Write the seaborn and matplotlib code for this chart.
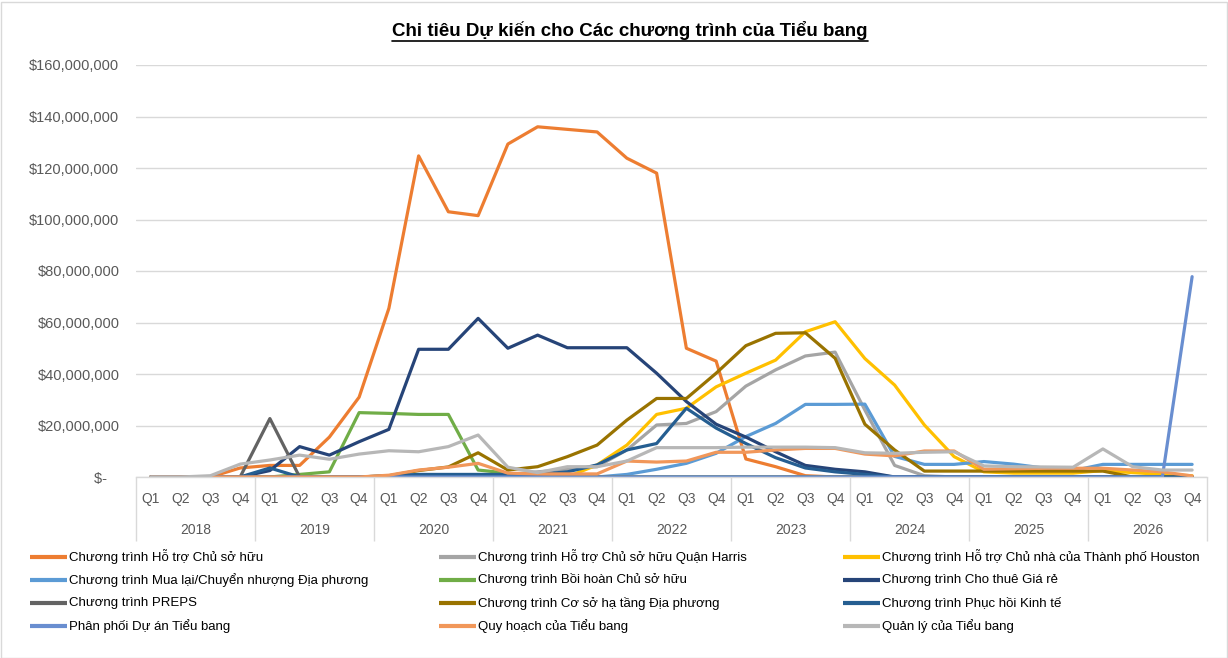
import matplotlib
matplotlib.use("Agg")
import matplotlib.pyplot as plt
from matplotlib.patches import Rectangle
from matplotlib.lines import Line2D
from matplotlib.ticker import FuncFormatter
import numpy as np
import pandas as pd
import seaborn as sns

# ---- data (millions of USD per quarter, 2018 Q1 .. 2026 Q4) ----
years = ["2018", "2019", "2020", "2021", "2022", "2023", "2024", "2025", "2026"]
quarters = ["Q1", "Q2", "Q3", "Q4"]

series_names = [
    "Chương trình Hỗ trợ Chủ sở hữu",
    "Chương trình Hỗ trợ Chủ sở hữu Quận Harris",
    "Chương trình Hỗ trợ Chủ nhà của Thành phố Houston",
    "Chương trình Mua lại/Chuyển nhượng Địa phương",
    "Chương trình Bồi hoàn Chủ sở hữu",
    "Chương trình Cho thuê Giá rẻ",
    "Chương trình PREPS",
    "Chương trình Cơ sở hạ tầng Địa phương",
    "Chương trình Phục hồi Kinh tế",
    "Phân phối Dự án Tiểu bang",
    "Quy hoạch của Tiểu bang",
    "Quản lý của Tiểu bang",
]

ho_tro_chu_so_huu = [0, 0, 0, 3.5, 4.5, 4.5, 15.5, 31, 65.5, 124.7, 103, 101.5,
                     129.3, 136, 135, 134, 123.8, 118, 50, 45, 7, 4, 0.5, 0,
                     0, 0, 0, 0, 0, 0, 0, 0, 0, 0, 0, 0]
harris = [0, 0, 0, 0, 0, 0, 0, 0, 0, 0, 0, 0,
          1, 2, 3, 4, 10.5, 20.2, 20.8, 25.4, 35.3, 41.6, 47, 48.5,
          26, 4.5, 0.5, 0, 0, 0, 0, 0, 0, 0, 0, 0]
houston = [0, 0, 0, 0, 0, 0, 0, 0, 0, 0, 0, 0,
           0, 0, 0, 4.7, 12.4, 24.3, 26.7, 35, 40.3, 45.4, 56.4, 60.3,
           46, 35.7, 20.2, 7.9, 2, 1.5, 1.5, 1.5, 2.5, 1.7, 1, 0.5]
mua_lai = [0, 0, 0, 0, 0, 0, 0, 0, 0, 0, 0, 0,
           0, 0, 0, 0, 1, 3, 5.3, 9.2, 15.7, 20.8, 28.2, 28.2,
           28.3, 8, 4.9, 4.9, 6, 5, 3.5, 2.5, 4.9, 4.9, 4.9, 4.9]
boi_hoan = [0, 0, 0, 0, 0, 1, 2, 25, 24.7, 24.3, 24.3, 2.7,
            1.5, 0, 0, 0, 0, 0, 0, 0, 0, 0, 0, 0,
            0, 0, 0, 0, 0, 0, 0, 0, 0, 0, 0, 0]
cho_thue = [0, 0, 0, 0, 2.5, 11.8, 8.5, 13.7, 18.5, 49.6, 49.6, 61.6,
            50, 55.1, 50.2, 50.2, 50.2, 40.3, 29.3, 20.5, 15.5, 9.8, 4.5, 3,
            2, 0, 0, 0, 0, 0, 0, 0, 0, 0, 0, 0]
preps = [0, 0, 0, 0, 22.7, 0, 0, 0, 0, 0, 0, 0,
         0, 0, 0, 0, 0, 0, 0, 0, 0, 0, 0, 0,
         0, 0, 0, 0, 0, 0, 0, 0, 0, 0, 0, 0]
co_so_ha_tang = [0, 0, 0, 0, 0, 0, 0, 0, 0.5, 2.5, 3.9, 9.4,
                 2.7, 4, 7.9, 12.4, 22.1, 30.5, 30.5, 40.3, 51, 55.8, 56, 46.1,
                 20.5, 10.5, 2.3, 2.3, 2.3, 2.3, 2.3, 2.3, 2.3, 0, 0, 0]
phuc_hoi = [0, 0, 0, 0, 3.5, 0, 0, 0, 0.5, 1, 1, 1,
            1, 1, 2, 4.7, 10.5, 13, 26.7, 19, 13, 7.5, 3.5, 2,
            1, 0, 0, 0, 0, 0, 0, 0, 0, 0, 0, 0]
phan_phoi = [0, 0, 0, 0, 0, 0, 0, 0, 0, 0, 0, 0,
             0, 0, 0, 0, 0, 0, 0, 0, 0, 0, 0, 0,
             0, 0, 0, 0, 0, 0, 0, 0, 0, 0, 0, 77.8]
quy_hoach = [0, 0, 0, 0, 0, 0, 0, 0, 0.7, 2.7, 3.8, 5.3,
             1.5, 1.2, 1.2, 1.2, 6.2, 5.8, 6.2, 9.6, 9.6, 10.5, 11.1, 11.1,
             8.9, 8.2, 10.1, 10.1, 3, 3.2, 3.4, 3.4, 3.4, 2.7, 2, 0.4]
quan_ly = [0, 0, 0.5, 5, 6.6, 8.5, 6.9, 8.9, 10.2, 9.8, 11.8, 16.3,
           3.8, 1.7, 4, 4, 6.2, 11.4, 11.4, 11.4, 11.6, 11.6, 11.6, 11.4,
           9.4, 9.2, 9.6, 9.8, 4.3, 4, 3.9, 3.8, 10.9, 4, 2.7, 2.7]

series_values = [ho_tro_chu_so_huu, harris, houston, mua_lai, boi_hoan, cho_thue,
                 preps, co_so_ha_tang, phuc_hoi, phan_phoi, quy_hoach, quan_ly]

colors = ["#ED7D31", "#A5A5A5", "#FFC000", "#5B9BD5", "#70AD47", "#264478",
          "#636363", "#997300", "#255E91", "#698ED0", "#F1975A", "#B7B7B7"]

# ---- long-form table ----
n = len(years) * len(quarters)
rows = []
for name, vals in zip(series_names, series_values):
    for i, v in enumerate(vals):
        rows.append({"idx": i, "program": name, "value": v * 1e6})
df = pd.DataFrame(rows)

# ---- styling ----
sns.set_style("white")
plt.rcParams["font.family"] = ["Liberation Sans", "DejaVu Sans"]

W, H = 1228, 658
fig = plt.figure(figsize=(W / 100, H / 100), dpi=100)
left, right, top, bottom = 136, 1207, 65, 477
ax = fig.add_axes([left / W, (H - bottom) / H, (right - left) / W, (bottom - top) / H])

sns.lineplot(data=df, x="idx", y="value", hue="program", hue_order=series_names,
             palette=colors, linewidth=2.3, ax=ax, legend=False, sort=False)
for ln in ax.lines:
    ln.set_solid_joinstyle("round")
    ln.set_solid_capstyle("round")

grid_c = "#D9D9D9"
ax.set_xlim(-0.5, n - 0.5)
ax.set_ylim(0, 160e6)
ax.set_yticks(np.arange(0, 160e6 + 1, 20e6))
ax.yaxis.grid(True, color=grid_c, linewidth=1.0)
ax.set_axisbelow(True)
for s in ["left", "right", "top"]:
    ax.spines[s].set_visible(False)
ax.spines["bottom"].set_color(grid_c)
ax.spines["bottom"].set_linewidth(1.0)


def money(v, pos):
    if abs(v) < 1:
        return "$-   "
    return f"${v:,.0f}"


ax.yaxis.set_major_formatter(FuncFormatter(money))
ax.tick_params(axis="y", length=0, pad=12, labelsize=10.5, labelcolor="#595959")

# quarter labels (major) and year separators (minor)
ax.set_xticks(range(n))
ax.set_xticklabels(quarters * len(years))
ax.tick_params(axis="x", which="major", length=0, pad=10.5, labelsize=10, labelcolor="#595959")
ax.set_xticks(np.arange(-0.5, n, 4), minor=True)
ax.tick_params(axis="x", which="minor", bottom=True, direction="out",
               length=46, width=1.0, color=grid_c)
ax.set_xlabel("")
ax.set_ylabel("")

for k, yr in enumerate(years):
    ax.annotate(yr, xy=(k * 4 + 1.5, 0), xycoords=("data", "axes fraction"),
                xytext=(0, -38.5), textcoords="offset points", ha="center", va="center",
                fontsize=10, color="#595959")

# title
title = fig.text(0.513, 1 - 30 / H, "Chi tiêu Dự kiến cho Các chương trình của Tiểu bang",
                 ha="center", va="center", fontsize=13.5, fontweight="bold", color="black")

# legend: three fixed columns, filled row by row
col_x = [30, 439, 843]
row_y = [557, 580, 603, 626]
for i, (name, c) in enumerate(zip(series_names, colors)):
    cx = col_x[i % 3]
    ry = row_y[i // 3]
    yf = 1 - ry / H
    fig.add_artist(Line2D([cx / W, (cx + 37) / W], [yf, yf], color=c, linewidth=3,
                          solid_capstyle="butt", transform=fig.transFigure))
    fig.text((cx + 39) / W, yf, name, ha="left", va="center", fontsize=9.5, color="black")

# chart border
fig.patches.append(Rectangle((0.5 / W, 0.5 / H), (W - 2) / W, (H - 2) / H,
                             transform=fig.transFigure, fill=False,
                             edgecolor=grid_c, linewidth=1.0))

# underline the title
fig.canvas.draw()
bb = title.get_window_extent()
y_ul = (bb.y0 - 1) / H
fig.add_artist(Line2D([bb.x0 / W, bb.x1 / W], [y_ul, y_ul], color="black",
                      linewidth=1.2, transform=fig.transFigure))

fig.savefig("out.png", dpi=100, facecolor="white")
